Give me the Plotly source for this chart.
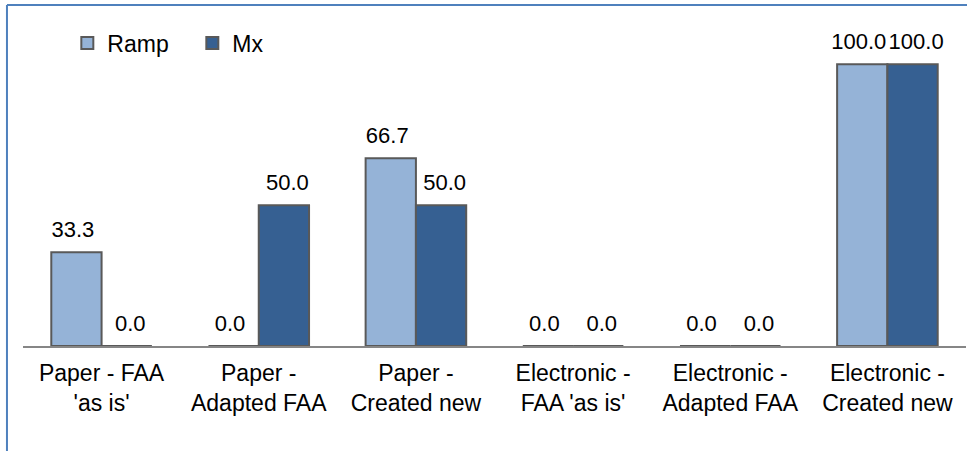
import plotly.graph_objects as go

categories = ["Paper - FAA<br>'as is'", "Paper -<br>Adapted FAA", "Paper -<br>Created new",
              "Electronic -<br>FAA 'as is'", "Electronic -<br>Adapted FAA", "Electronic -<br>Created new"]
ramp = [33.3, 0.0, 66.7, 0.0, 0.0, 100.0]
mx = [0.0, 50.0, 50.0, 0.0, 0.0, 100.0]
series = [("Ramp", ramp, "#95B3D7"), ("Mx", mx, "#366092")]

FAM = "Liberation Sans, Arial, sans-serif"
font = dict(family=FAM, size=23, color="#000000")
label_font = dict(family=FAM, size=22, color="#000000")

fig = go.Figure()
for name, vals, col in series:
    fig.add_trace(go.Bar(name=name, x=categories, y=vals, offsetgroup=name,
                         marker=dict(color=col, line=dict(color="#595959", width=2)),
                         hoverinfo="x+y"))
for name, vals, col in series:
    fig.add_trace(go.Scatter(name=name + " labels", x=categories, y=vals, offsetgroup=name,
                             mode="markers+text", text=[f"{v:.1f}" for v in vals],
                             textposition="top center", textfont=label_font,
                             marker=dict(size=14, opacity=0), showlegend=False,
                             cliponaxis=False, hoverinfo="skip"))

fig.update_layout(
    width=967, height=451,
    margin=dict(l=23, r=1, t=8, b=105),
    paper_bgcolor="white", plot_bgcolor="white",
    barmode="group", bargap=0.36, bargroupgap=0,
    scattermode="group", scattergap=0.27,
    font=font,
    showlegend=True,
    legend=dict(orientation="h", x=0.047, y=0.96, xanchor="left", yanchor="top",
                font=font, bgcolor="rgba(0,0,0,0)", entrywidth=80, entrywidthmode="pixels"),
    xaxis=dict(showline=True, linecolor="#868686", linewidth=1.5, ticks="", tickfont=font,
               showgrid=False, ticklabelstandoff=6),
    yaxis=dict(range=[0, 120], visible=False, showgrid=False),
)
fig.add_shape(type="line", xref="paper", yref="paper", x0=-0.017, x1=-0.017, y0=1.009, y1=-0.33,
              line=dict(color="#4F81BD", width=2))
fig.add_shape(type="line", xref="paper", yref="paper", x0=-0.017, x1=1.01, y0=1.009, y1=1.009,
              line=dict(color="#4F81BD", width=2))
fig.write_html("out.html", config={"displayModeBar": False},
               post_script="document.body.style.margin='0';")
